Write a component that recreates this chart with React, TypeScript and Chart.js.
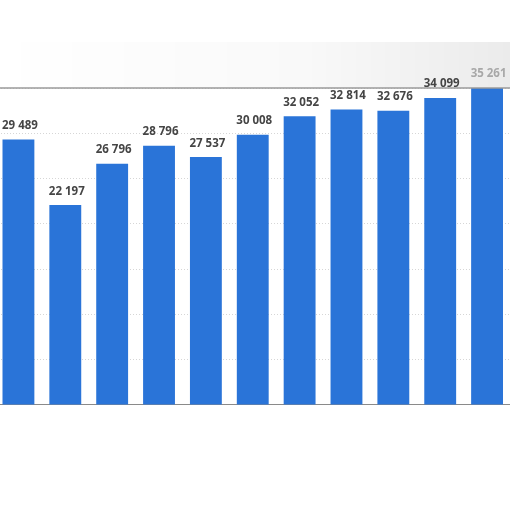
import { useEffect, useRef } from 'react'
import { Chart, ChartConfiguration, Plugin, registerables } from 'chart.js'

Chart.register(...registerables)

const years = ['2009', '2010', '2011', '2012', '2013', '2014', '2015', '2016', '2017', '2018', '2019']
const values = [29489, 22197, 26796, 28796, 27537, 30008, 32052, 32814, 32676, 34099, 35261]

const fmt = (v: number) => String(v).replace(/\B(?=(\d{3})+(?!\d))/g, ' ')

// value labels on top of the bars
const barLabels: Plugin = {
    id: 'barLabels',
    afterDatasetsDraw(chart) {
        const ctx = chart.ctx
        const meta = chart.getDatasetMeta(0)
        ctx.save()
        ctx.font = 'bold 11.5px "Open Sans", "Liberation Sans", sans-serif'
        ctx.textAlign = 'center'
        ctx.textBaseline = 'bottom'
        meta.data.forEach((bar: any, i) => {
            const y = bar.y - 8
            // labels that sit in the faded header band are drawn lighter
            ctx.fillStyle = y < chart.chartArea.top - 4 ? '#a8a8a8' : '#454545'
            ctx.fillText(fmt(values[i]), bar.x + 1.5, y)
        })
        ctx.restore()
    }
}

// faded header band and the line at the top of the plot
const frame: Plugin = {
    id: 'frame',
    beforeDraw(chart) {
        const { ctx, width, chartArea } = chart
        ctx.save()
        const g = ctx.createLinearGradient(0, 0, width, 0)
        g.addColorStop(0, 'rgba(0,0,0,0.0)')
        g.addColorStop(0.6, 'rgba(0,0,0,0.025)')
        g.addColorStop(1, 'rgba(0,0,0,0.08)')
        ctx.fillStyle = g
        ctx.fillRect(0, chartArea.top - 46, width, 46)
        ctx.restore()
    },
    afterDraw(chart) {
        const { ctx, width, chartArea } = chart
        ctx.save()
        ctx.strokeStyle = '#9a9a9a'
        ctx.lineWidth = 1.5
        ctx.beginPath()
        ctx.moveTo(0, chartArea.top)
        ctx.lineTo(width, chartArea.top)
        ctx.stroke()
        ctx.restore()
    }
}

export default function App() {
    const canvasRef = useRef<HTMLCanvasElement>(null)
    const chartRef = useRef<Chart | null>(null)

    useEffect(() => {
        if (!canvasRef.current) return
        const ctx = canvasRef.current.getContext('2d')
        if (!ctx) return

        const config: ChartConfiguration = {
            type: 'bar',
            data: {
                labels: years,
                datasets: [{
                    data: values,
                    backgroundColor: '#2a74d8',
                    barPercentage: 0.68,
                    categoryPercentage: 1
                }]
            },
            options: {
                responsive: true,
                maintainAspectRatio: false,
                animation: false,
                layout: { padding: { top: 88, left: 0, right: 0, bottom: 0 } },
                scales: {
                    x: {
                        ticks: { display: false },
                        grid: { display: false, drawTicks: false },
                        border: { display: true, color: '#8a8a8a', width: 2 }
                    },
                    y: {
                        min: 0,
                        max: 35200,
                        ticks: { display: false, stepSize: 5000 },
                        grid: { color: '#d6d6d6', drawTicks: false },
                        border: { display: false, dash: [1, 2] }
                    }
                },
                plugins: {
                    legend: { display: false },
                    tooltip: { enabled: false }
                }
            },
            plugins: [frame, barLabels]
        }

        chartRef.current = new Chart(ctx, config)

        return () => {
            if (chartRef.current) {
                chartRef.current.destroy()
            }
        }
    }, [])

    return (
        <div style={{ position: 'absolute', left: -5.5, top: 0, width: 515.5, height: 405 }}>
            <canvas ref={canvasRef} aria-label="Bar chart" role="img"></canvas>
        </div>
    )
}
